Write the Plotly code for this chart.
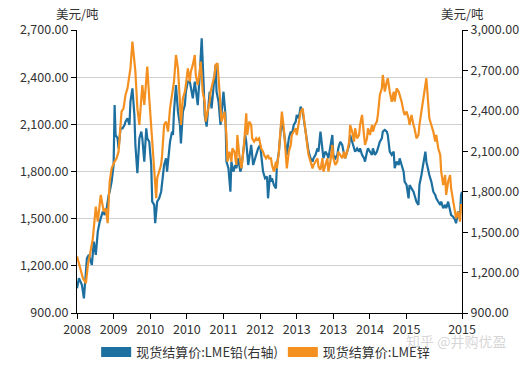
import plotly.graph_objects as go

# x positions: trading-week index from the first to the last observation
tick_weeks = [0, 37, 74, 111, 148, 185, 222, 259, 296, 333, 389]
tick_labels = ["2008", "2009", "2010", "2010", "2011", "2012", "2013", "2013", "2014", "2015", "2015"]

zinc_week = [0,3,6,9,11,13,16,19,21,24,27,29,31,33,35,38,40,42,43,45,47,49,51,52,54,56,58,59,61,63,
             65,66,68,70,71,73,75,76,78,80,81,83,85,86,88,90,92,94,95,
             97,98,100,102,104,105,107,109,110,112,114,115,117,119,120,122,124,125,127,129,
             130,132,134,135,137,139,140,142,144,146,147,149,151,152,154,156,157,159,161,162,
             164,166,167,169,171,172,174,176,177,179,181,182,184,186,188,189,191,193,194,
             196,197,199,201,202,204,206,207,209,211,212,214,216,217,219,221,222,224,226,228,
             229,231,233,234,236,238,239,241,243,244,246,248,249,251,253,254,256,258,259,261,
             263,264,266,268,270,271,273,275,276,278,280,281,283,285,286,288,290,291,293,
             294,296,298,299,301,303,304,306,308,309,311,313,314,316,318,320,321,323,325,326,
             328,330,331,333,335,336,338,340,341,343,345,346,348,350,352,353,355,356,358,360,
             362,363,365,367,368,370,372,373,375,377,378,380,382,383,385,387,388,389]
zinc = [1260,1184,1121,1089,1206,1269,1375,1577,1481,1651,1545,1566,1471,1736,1820,1863,1884,1926,2032,2181,
        2202,2287,2329,2382,2456,2626,2478,2435,2202,2096,2266,2350,2223,2393,2467,2266,2096,1948,1778,1630,
        1757,1799,1842,1905,2096,2117,2054,2202,2244,
        2308,2372,2541,2456,2244,2096,2266,2308,2350,2456,2372,2435,2478,2541,2414,2350,2435,2499,2308,2244,
        2117,2181,2244,2308,2372,2414,2478,2488,2308,2117,2138,2181,2032,1863,1926,1863,1948,1926,1842,2032,
        1905,1820,1863,1990,2170,2032,2117,2096,2011,1990,2011,2001,2011,1948,1926,1905,1884,1905,1884,
        1884,1842,1799,1863,1820,1926,2096,2181,2075,1926,1820,1926,1969,2032,2054,2075,2032,2117,2181,2202,
        2160,2054,1948,1905,1863,1820,1842,1863,1884,1831,1810,1884,1799,1842,1884,1799,1863,1969,1884,1842,
        1863,1926,1905,1884,1926,1884,1926,1990,2096,2054,1990,2075,2011,2032,2096,2160,2032,1969,2011,
        2075,2032,2096,2054,2096,2117,2160,2287,2329,2414,2308,2372,2393,2308,2244,2308,2244,2329,2308,2287,
        2244,2181,2160,2181,2138,2096,2160,2096,2075,2011,2032,2096,2181,2266,2372,2393,2223,2138,2096,2054,
        1990,2032,1948,1905,1799,1714,1778,1651,1736,1778,1693,1608,1524,1502,1545,1481,1587,1587]

lead_week = [0,2,5,7,10,12,15,17,19,21,23,26,28,30,32,33,35,37,38,39,41,42,44,46,48,49,51,53,54,56,
             58,59,61,63,65,66,68,70,71,73,75,76,78,79,81,83,85,86,88,90,91,94,96,
             97,98,100,102,104,105,107,109,110,112,114,115,117,119,120,122,124,125,126,128,
             129,131,133,134,136,138,140,141,143,145,146,148,150,151,153,155,156,158,160,161,
             163,165,166,168,170,171,173,175,176,178,180,181,183,185,187,188,190,192,193,195,
             196,197,199,201,202,204,206,207,209,211,212,214,216,217,219,221,222,224,226,228,
             229,231,233,234,236,238,239,241,243,244,246,248,249,251,253,254,256,258,259,261,
             263,264,266,268,270,271,273,275,276,278,280,281,283,285,286,288,290,291,293,
             294,296,298,299,301,303,304,306,308,309,311,313,314,316,318,320,321,323,325,326,
             328,330,331,333,335,336,338,340,341,343,345,346,348,350,352,353,355,356,358,360,
             362,363,365,367,368,370,372,373,375,377,378,380,382,383,385,387,388,389]
lead = [1083,1158,1108,1009,1306,1331,1257,1430,1331,1504,1578,1652,1627,1677,1776,1800,1875,1998,2443,2221,
        2196,2122,2270,2270,2295,2320,2345,2295,2468,2567,2369,2147,1937,2196,2246,2196,2023,2270,2196,2171,
        1998,1726,1702,1566,1726,1751,1800,1875,1998,2048,1949,2171,2246,
        2221,2394,2592,2394,2295,2159,2394,2443,2542,2617,2617,2567,2493,2617,2542,2443,2666,2790,2938,2592,
        2369,2283,2468,2542,2419,2617,2740,2542,2468,2295,2369,2542,2369,2023,1974,1800,2023,1949,1998,1974,
        2048,1949,1974,2097,2221,2171,1998,2097,2147,1998,2048,2073,2122,2147,2023,1949,1899,1912,1751,1924,
        1875,1899,1850,1825,1998,2097,2270,2320,2246,2147,2073,2196,2246,2221,2295,2320,2369,2345,2431,2394,
        2345,2246,2147,2097,2048,2023,2048,2073,2122,2097,2246,2097,2048,2097,2073,2048,2147,2221,2073,2048,
        2073,2122,2171,2147,2073,2048,2097,2147,2221,2171,2122,2097,2122,2097,2122,2073,2048,2023,2097,
        2122,2097,2073,2122,2073,2097,2122,2171,2196,2246,2258,2246,2221,2097,2073,2097,1974,2023,1998,2048,
        1998,1949,1875,1850,1751,1850,1825,1800,1776,1726,1702,1850,1924,1998,2097,2023,1949,1924,1875,1800,
        1776,1751,1726,1702,1726,1677,1702,1677,1726,1652,1627,1615,1590,1566,1652,1627,1776,1800]

lead_name = "现货结算价:LME铅(右轴)"
zinc_name = "现货结算价:LME锌"
unit = "美元/吨"
watermark = "知乎 @井购优盈"

BLUE = "#1d6f9f"
ORANGE = "#f39020"
FONT = "Noto Sans CJK SC"

fig = go.Figure()
# lead on primary axis (drawn at right), zinc on overlay (left) so zinc draws on top
fig.add_trace(go.Scatter(x=lead_week, y=lead, mode="lines", name=lead_name,
                         line=dict(color=BLUE, width=2.2), yaxis="y", showlegend=False))
fig.add_trace(go.Scatter(x=zinc_week, y=zinc, mode="lines", name=zinc_name,
                         line=dict(color=ORANGE, width=2.2), yaxis="y2", showlegend=False))
# legend swatches
fig.add_trace(go.Scatter(x=[None], y=[None], mode="lines", name=lead_name,
                         line=dict(color=BLUE, width=13), yaxis="y"))
fig.add_trace(go.Scatter(x=[None], y=[None], mode="lines", name=zinc_name,
                         line=dict(color=ORANGE, width=13), yaxis="y2"))

axis_common = dict(showline=True, linecolor="#000", linewidth=1, ticks="outside",
                   ticklen=5, tickcolor="#000", tickfont=dict(size=12.5, color="#333", family=FONT),
                   zeroline=False)

fig.update_layout(
    width=521, height=365,
    margin=dict(l=77, r=59, t=30, b=52, autoexpand=False),
    paper_bgcolor="white", plot_bgcolor="white",
    font=dict(family=FONT, color="#333"),
    xaxis=dict(range=[0, 389], tickmode="array", tickvals=tick_weeks, ticktext=tick_labels,
               showgrid=False, **axis_common),
    yaxis=dict(side="right", range=[900, 3000], dtick=300, tick0=900, tickformat=",.2f",
               showgrid=False, **axis_common),
    yaxis2=dict(side="left", overlaying="y", range=[900, 2700], dtick=300, tick0=900,
                tickformat=",.2f", showgrid=True, gridcolor="#d0d0d0", gridwidth=1, **axis_common),
    legend=dict(orientation="h", x=0.49, xanchor="center", y=-0.085, yanchor="top",
                font=dict(size=13, color="#333", family=FONT), itemwidth=30,
                traceorder="normal"),
    annotations=[
        dict(text=unit, xref="paper", yref="paper", x=0, y=1.0, yshift=17, showarrow=False,
             font=dict(size=12.5, color="#333", family=FONT), xanchor="center", yanchor="middle"),
        dict(text=unit, xref="paper", yref="paper", x=1, y=1.0, yshift=17, showarrow=False,
             font=dict(size=12.5, color="#333", family=FONT), xanchor="center", yanchor="middle"),
        dict(text=watermark, xref="paper", yref="paper", x=0.985, y=-0.1, showarrow=False,
             font=dict(size=14, color="rgba(160,160,160,0.45)", family=FONT),
             xanchor="center", yanchor="middle"),
    ],
)

fig.write_html("out.html", config={"displayModeBar": False},
               post_script="document.body.style.margin='0';")
